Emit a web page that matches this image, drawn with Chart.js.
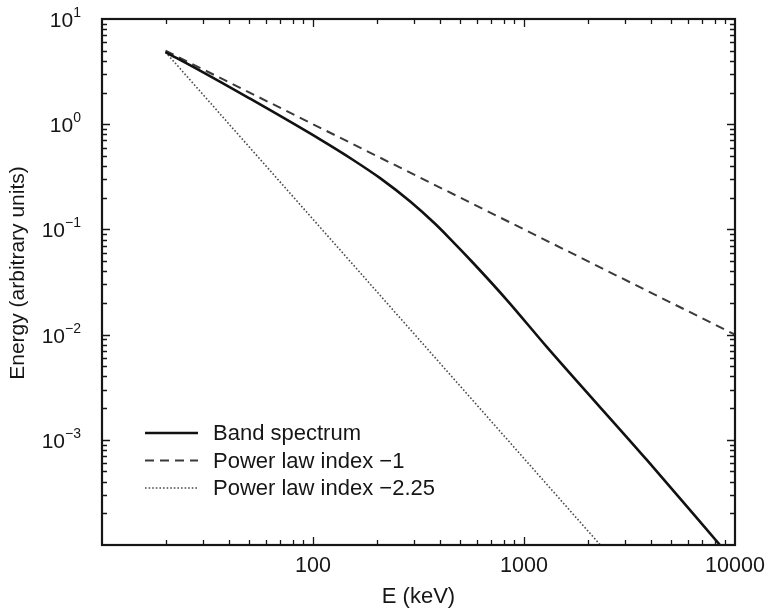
<!DOCTYPE html>
<html>
<head>
<meta charset="utf-8">
<title>Band spectrum</title>
<script src="https://cdn.jsdelivr.net/npm/chart.js@4.4.1/dist/chart.umd.min.js"></script>
<style>
  html, body { margin: 0; padding: 0; background: #fff; }
</style>
</head>
<body>
<canvas id="spectrum" width="769" height="614"></canvas>
<script>
// Energies in keV and the curve values
const bandEnergy = [20, 29, 50, 108, 155, 208, 289, 379, 450, 573, 830, 1285, 3830, 8490];
const bandValue = [4.85, 3.25, 1.76, 0.717, 0.457, 0.307, 0.184, 0.113, 0.08, 0.0482, 0.0213, 0.0076, 0.00064, 0.0001];
const pl1Energy = [20, 10000];
const pl1Value = [5, 0.01];
const pl225Energy = [20, 2300];
const pl225Value = [4.85, 0.0001];

const seriesNames = ["Band spectrum", "Power law index \u22121", "Power law index \u22122.25"];
const xTickLabels = [100, 1000, 10000];
const yTickExponents = [1, 0, -1, -2, -3];
const xTitle = "E (keV)";
const yTitle = "Energy (arbitrary units)";

const FONT = "'Liberation Sans', Arial, Helvetica, sans-serif";
const INK = "#161616";

const toPoints = (xs, ys) => xs.map((x, i) => ({ x: x, y: ys[i] }));

// every 1..9 x 10^n value strictly inside min..max
function logSteps(min, max) {
  const out = [];
  for (let e = Math.floor(Math.log10(min)); e <= Math.ceil(Math.log10(max)); e++) {
    for (let m = 1; m <= 9; m++) {
      const v = m * Math.pow(10, e);
      if (v > min * 1.0001 && v < max * 0.9999) out.push({ v: v, major: m === 1 });
    }
  }
  return out;
}

// box with inward ticks, axis labels and the legend
const frameTicks = {
  id: "frameTicks",
  afterDatasetsDraw(chart) {
    const { ctx, chartArea: a, scales } = chart;
    const x = scales.x, y = scales.y;
    ctx.save();
    ctx.strokeStyle = INK;
    ctx.lineWidth = 1.3;
    ctx.beginPath();
    logSteps(x.min, x.max).forEach(t => {
      const px = Math.round(x.getPixelForValue(t.v)) + 0.5;
      const len = t.major ? 8 : 5;
      ctx.moveTo(px, a.bottom); ctx.lineTo(px, a.bottom - len);
      ctx.moveTo(px, a.top); ctx.lineTo(px, a.top + len);
    });
    logSteps(y.min, y.max).forEach(t => {
      const py = Math.round(y.getPixelForValue(t.v)) + 0.5;
      const len = t.major ? 8 : 5;
      ctx.moveTo(a.left, py); ctx.lineTo(a.left + len, py);
      ctx.moveTo(a.right, py); ctx.lineTo(a.right - len, py);
    });
    ctx.stroke();
    ctx.lineWidth = 2.2;
    ctx.strokeRect(a.left, a.top, a.right - a.left, a.bottom - a.top);
    ctx.restore();
  },
  afterDraw(chart) {
    const { ctx, chartArea: a, scales } = chart;
    const x = scales.x, y = scales.y;
    ctx.save();
    ctx.fillStyle = INK;

    // x tick labels and title
    ctx.font = "21.5px " + FONT;
    ctx.textAlign = "center";
    ctx.textBaseline = "middle";
    xTickLabels.forEach(v => {
      ctx.fillText(String(v), x.getPixelForValue(v), a.bottom + 21);
    });
    ctx.font = "22px " + FONT;
    ctx.fillText(xTitle, (a.left + a.right) / 2, a.bottom + 52);

    // y title, rotated
    ctx.save();
    ctx.translate(18, (a.top + a.bottom) / 2 - 9);
    ctx.rotate(-Math.PI / 2);
    ctx.font = "21px " + FONT;
    ctx.fillText(yTitle, 0, 0);
    ctx.restore();

    // powers of ten on the y axis
    ctx.textAlign = "left";
    ctx.textBaseline = "alphabetic";
    yTickExponents.forEach(e => {
      const py = y.getPixelForValue(Math.pow(10, e));
      const sup = String(e).replace("-", "\u2212");
      ctx.font = "21px " + FONT;
      const wBase = ctx.measureText("10").width;
      ctx.font = "14px " + FONT;
      const wSup = ctx.measureText(sup).width;
      const right = a.left - 21;
      ctx.font = "21px " + FONT;
      ctx.fillText("10", right - wSup - wBase, py + 8);
      ctx.font = "14px " + FONT;
      ctx.fillText(sup, right - wSup, py - 2);
    });

    // legend in the lower left corner of the plot
    ctx.font = "22px " + FONT;
    ctx.textBaseline = "middle";
    chart.data.datasets.forEach((ds, i) => {
      const ly = 433 + i * 27.5;
      ctx.strokeStyle = ds.borderColor;
      ctx.lineWidth = ds.borderWidth;
      ctx.setLineDash(ds.borderDash || []);
      ctx.beginPath();
      ctx.moveTo(a.left + 43, ly);
      ctx.lineTo(a.left + 96, ly);
      ctx.stroke();
      ctx.setLineDash([]);
      ctx.fillText(ds.label, a.left + 111, ly + 1);
    });
    ctx.restore();
  }
};

const chart = new Chart(document.getElementById("spectrum"), {
  type: "line",
  data: {
    datasets: [
      {
        label: seriesNames[0],
        data: toPoints(bandEnergy, bandValue),
        borderColor: "#111111",
        borderWidth: 2.6,
        cubicInterpolationMode: "monotone",
        pointRadius: 0,
        fill: false,
      },
      {
        label: seriesNames[1],
        data: toPoints(pl1Energy, pl1Value),
        borderColor: "#3a3a3a",
        borderWidth: 2,
        borderDash: [9, 6],
        pointRadius: 0,
        fill: false,
      },
      {
        label: seriesNames[2],
        data: toPoints(pl225Energy, pl225Value),
        borderColor: "#4a4a4a",
        borderWidth: 1.6,
        borderDash: [1.6, 2],
        pointRadius: 0,
        fill: false,
      },
    ],
  },
  options: {
    responsive: false,
    animation: false,
    devicePixelRatio: 1,
    layout: { padding: { top: 19, right: 34, left: 102, bottom: 69 } },
    plugins: {
      legend: { display: false },
      tooltip: { enabled: false },
    },
    scales: {
      x: { type: "logarithmic", min: 10, max: 10000, display: false },
      y: { type: "logarithmic", min: 0.0001, max: 10, display: false },
    },
  },
  plugins: [frameTicks],
});
</script>
</body>
</html>
